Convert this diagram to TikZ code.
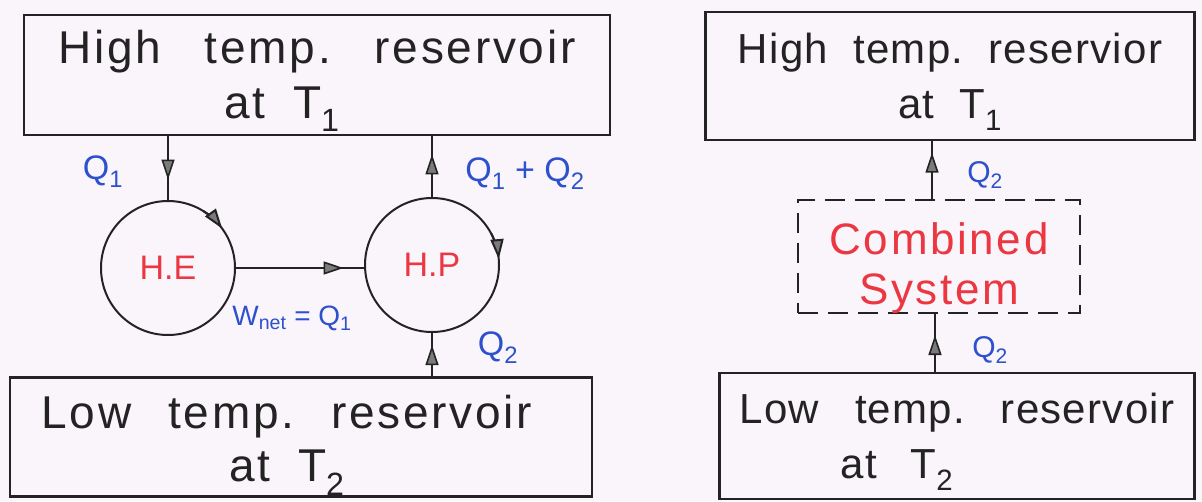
\documentclass[tikz,border=0pt]{standalone}
\usepackage{fontspec}
\setmainfont{Liberation Sans}
\newfontfamily\handA[LetterSpace=6]{Liberation Sans}
\newfontfamily\handB[LetterSpace=3]{Liberation Sans}
\usetikzlibrary{arrows.meta,decorations.markings}
\definecolor{paper}{RGB}{250,245,250}
\definecolor{qblue}{RGB}{45,80,205}
\definecolor{hred}{RGB}{235,55,65}
\definecolor{ink}{RGB}{35,35,35}
\tikzset{
  x=1pt, y=-1pt,
  res/.style={draw=ink, line width=2.4pt, inner sep=0pt},
  restext/.style={inner sep=0pt, align=center, text=ink},
  eng/.style={draw=ink, circle, line width=2pt, minimum size=134pt, inner sep=0pt,
    text=hred, font=\fontsize{34}{40}\selectfont},
  combo/.style={draw=ink, dashed, dash pattern=on 20pt off 10pt, line width=2pt, inner sep=0pt},
  combotext/.style={inner sep=0pt, align=center, text=hred, font=\handA\fontsize{44}{50}\selectfont},
  qlab/.style={text=qblue, font=\fontsize{34}{40}\selectfont, inner sep=1pt},
  flow/.style={draw=ink, line width=2pt},
  tipA/.style={-{Triangle[length=20pt,width=13pt,fill=ink!60]}},
  midtip/.style={postaction={decorate}, decoration={markings,
    mark=at position #1 with {\arrow[line width=1.6pt]{Triangle[length=20pt,width=13pt,fill=ink!60]}}}},
}
\begin{document}
\begin{tikzpicture}
\fill[paper] (0,0) rectangle (1202,501);
\useasboundingbox (0,0) rectangle (1202,501);

% left diagram
\node[res, minimum width=586pt, minimum height=120pt] (htl) at (317,75) {};
\node[restext, font=\handA\fontsize{46}{55}\selectfont] (htlt) at ([yshift=-6pt]htl.center)
  {High\hspace{0.95em}temp.\hspace{0.95em}reservoir\\ at\hspace{0.6em}T\textsubscript{1}\hspace*{70pt}};
\node[res, minimum width=582pt, minimum height=119pt] (ltl) at (301,437) {};
\node[restext, font=\handA\fontsize{46}{53}\selectfont] (ltlt) at ([xshift=-14pt,yshift=-8pt]ltl.center)
  {Low\hspace{0.8em}temp.\hspace{0.8em}reservoir\\ at\hspace{0.6em}T\textsubscript{2}};
\node[eng] (he) at (168,268) {H.E};
\node[eng] (hp) at (432,265) {H.P};

\path[flow, midtip=0.68] (he.north |- htl.south) -- (he.north);
\path[flow, midtip=0.7] (hp.north) -- (hp.north |- htl.south);
\path[flow, midtip=0.84] (he.east) -- (hp.west |- he.east);
\path[flow, midtip=0.72] (hp.south |- ltl.north) -- (hp.south);

% direction marks on the circles
\draw[draw=ink, line width=2pt, tipA]
  ([shift={(58:67pt)}]he.center) arc[start angle=58, end angle=36, radius=67pt];
\draw[draw=ink, line width=2pt, tipA]
  ([shift={(28:67pt)}]hp.center) arc[start angle=28, end angle=5, radius=67pt];

\node[qlab] (q1) at (103,172) {Q\textsubscript{1}};
\node[qlab] (q12) at (525,174) {Q\textsubscript{1} + Q\textsubscript{2}};
\node[qlab, font=\fontsize{28}{34}\selectfont] (wn) at (292,318) {W\textsubscript{net} = Q\textsubscript{1}};
\node[qlab] (q2l) at (498,348) {Q\textsubscript{2}};

% right diagram
\node[res, minimum width=489pt, minimum height=128pt] (htr) at (950,76) {};
\node[restext, font=\handB\fontsize{42}{55}\selectfont] (htrt) at ([yshift=-6pt]htr.center)
  {High\hspace{0.6em}temp.\hspace{0.6em}reservior\\ at\hspace{0.6em}T\textsubscript{1}};
\node[combo, minimum width=282pt, minimum height=113pt] (cs) at (939,256) {};
\node[combotext] (cst) at ([yshift=-12pt]cs.center) {Combined\\ System};
\node[res, minimum width=475pt, minimum height=126pt] (ltr) at (957,436) {};
\node[restext, font=\handB\fontsize{42}{55}\selectfont] (ltrt) at ([yshift=-6pt]ltr.center)
  {Low\hspace{0.85em}temp.\hspace{0.85em}reservoir\\ at\hspace{0.8em}T\textsubscript{2}\hspace*{120pt}};

\path[flow, midtip=0.8] ([xshift=-7pt]cs.north) -- ([xshift=-7pt]cs.north |- htr.south);
\path[flow, midtip=0.63] ([xshift=-4pt]cs.south |- ltr.north) -- ([xshift=-4pt]cs.south);

\node[qlab, font=\fontsize{30}{36}\selectfont] (q2a) at (985,175) {Q\textsubscript{2}};
\node[qlab, font=\fontsize{30}{36}\selectfont] (q2b) at (990,350) {Q\textsubscript{2}};
\end{tikzpicture}
\end{document}
